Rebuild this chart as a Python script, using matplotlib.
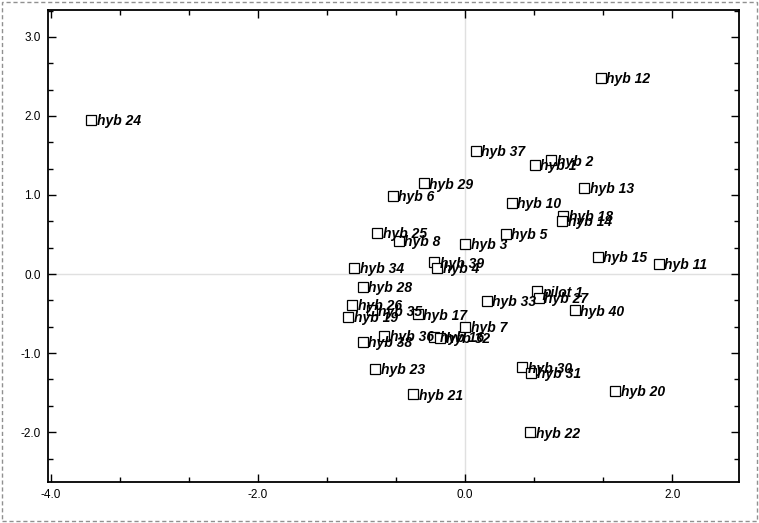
import matplotlib
matplotlib.use("Agg")
import matplotlib.pyplot as plt
from matplotlib.ticker import MultipleLocator, FormatStrFormatter
from matplotlib.patches import Rectangle

# PCA scores
labels = ['hyb 24', 'hyb 12', 'hyb 37', 'hyb 2', 'hyb 1', 'hyb 13', 'hyb 29',
          'hyb 6', 'hyb 10', 'hyb 18', 'hyb 14', 'hyb 25', 'hyb 5', 'hyb 8',
          'hyb 3', 'hyb 39', 'hyb 4', 'hyb 34', 'hyb 15', 'hyb 11', 'hyb 28',
          'pilot 1', 'hyb 27', 'hyb 33', 'hyb 26', 'hyb 40', 'hyb 35',
          'hyb 17', 'hyb 19', 'hyb 7', 'hyb 36', 'hyb 16', 'hyb 32', 'hyb 38',
          'hyb 23', 'hyb 30', 'hyb 31', 'hyb 20', 'hyb 21', 'hyb 22']
xs = [-3.61, 1.31, 0.10, 0.83, 0.67, 1.15, -0.40,
      -0.70, 0.45, 0.95, 0.94, -0.85, 0.39, -0.64,
      0.00, -0.30, -0.27, -1.07, 1.28, 1.87, -0.99,
      0.69, 0.71, 0.21, -1.09, 1.06, -0.90,
      -0.46, -1.13, 0.00, -0.78, -0.30, -0.24, -0.99,
      -0.87, 0.55, 0.64, 1.45, -0.50, 0.63]
ys = [1.95, 2.48, 1.56, 1.44, 1.38, 1.09, 1.15,
      0.99, 0.90, 0.74, 0.67, 0.52, 0.51, 0.42,
      0.38, 0.15, 0.08, 0.08, 0.22, 0.13, -0.16,
      -0.22, -0.30, -0.34, -0.39, -0.46, -0.46,
      -0.51, -0.54, -0.67, -0.78, -0.79, -0.81, -0.86,
      -1.20, -1.18, -1.25, -1.48, -1.52, -2.00]

fig = plt.figure(figsize=(7.59, 5.23), dpi=100)
ax = fig.add_axes([0.0632, 0.0784, 0.9104, 0.9025])

ax.axhline(0, color='#e0e0e0', lw=1, zorder=0)
ax.axvline(0, color='#e0e0e0', lw=1, zorder=0)

ax.plot(xs, ys, 's', ms=6.5, mfc='white', mec='black', mew=0.9, ls='none')
for lab, x, y in zip(labels, xs, ys):
    ax.annotate(lab, (x, y), xytext=(4, -1), textcoords='offset points',
                ha='left', va='center', fontsize=10, fontweight='bold',
                fontstyle='italic', family=['Liberation Sans', 'DejaVu Sans'])

ax.set_xlim(-4.03, 2.645)
ax.set_ylim(-2.63, 3.34)
ax.xaxis.set_major_locator(MultipleLocator(2.0))
ax.xaxis.set_minor_locator(MultipleLocator(2.0 / 3))
ax.yaxis.set_major_locator(MultipleLocator(1.0))
ax.yaxis.set_minor_locator(MultipleLocator(1.0 / 3))
ax.xaxis.set_major_formatter(FormatStrFormatter('%.1f'))
ax.yaxis.set_major_formatter(FormatStrFormatter('%.1f'))
ax.tick_params(which='both', direction='in', top=True, right=True,
               width=1, labelsize=8.5, pad=5)
ax.tick_params(which='major', length=6)
ax.tick_params(which='minor', length=3.5)
for t in ax.get_xticklabels() + ax.get_yticklabels():
    t.set_family(['Liberation Sans Narrow', 'Liberation Sans'])
for sp in ax.spines.values():
    sp.set_linewidth(1.3)

fig.patches.append(Rectangle((0.002, 0.003), 0.996, 0.994, transform=fig.transFigure,
                             fill=False, ec='#909090', ls=(0, (3, 2)), lw=1))

fig.savefig('out.png', dpi=100)
